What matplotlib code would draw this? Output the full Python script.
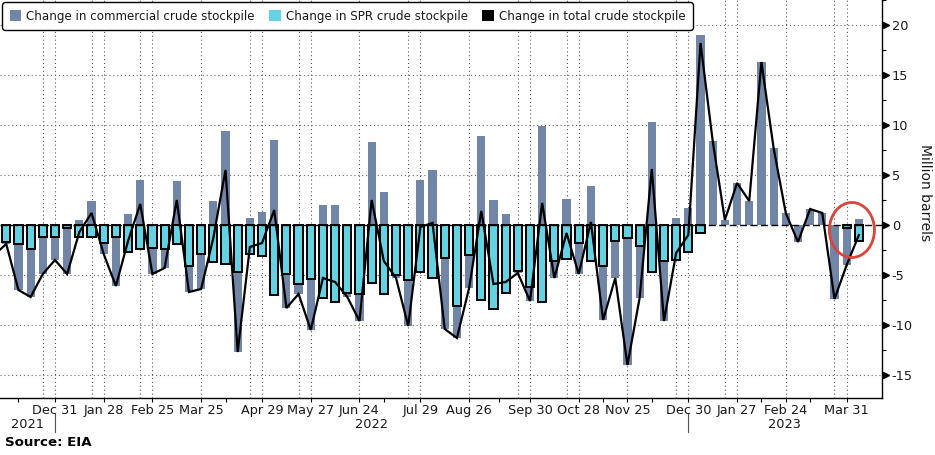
import numpy as np
import pandas as pd
import matplotlib
matplotlib.use("Agg")
import matplotlib.pyplot as plt
import matplotlib.dates as mdates
import matplotlib.transforms as mtransforms
from matplotlib.patches import Patch, Ellipse

# ---------------- data (million barrels, weekly) ----------------
weeks = pd.date_range("2021-11-26", "2023-04-07", freq="7D")

commercial = [-1.5, -0.2, -4.6, -4.8, -3.7, -2.3, -4.6, 0.5, 2.4, -1.1,
              -4.9, 1.1, 4.5, -2.6, -1.9, 4.4, -2.6, -3.5, 2.4, 9.4,
              -8.0, 0.7, 1.3, 8.5, -3.4, -1.0, -5.1, 2.0, 2.0, -0.4,
              -2.7, 8.3, 3.3, -0.3, -4.6, 4.5, 5.5, -7.1, -3.2, -3.3,
              8.9, 2.5, 1.1, -0.2, -1.4, 9.9, -1.7, 2.6, -3.1, 3.9,
              -5.4, -3.7, -12.7, -5.2, 10.3, -6.0, 0.7, 1.7, 19.0, 8.4,
              0.5, 4.2, 2.4, 16.3, 7.7, 1.2, -1.7, 1.6, 1.2, -7.4,
              -3.7, 0.6]

spr = [-1.5, -1.7, -1.9, -2.4, -1.2, -1.2, -0.3, -1.2, -1.2, -1.8,
       -1.2, -2.7, -2.4, -2.3, -2.4, -1.9, -4.1, -2.9, -3.7, -3.9,
       -4.7, -2.9, -3.1, -7.0, -4.9, -5.9, -5.4, -7.3, -7.7, -6.8,
       -6.9, -5.8, -6.9, -5.0, -5.5, -4.7, -5.3, -3.3, -8.1, -3.0,
       -7.5, -8.4, -6.8, -4.6, -6.2, -7.7, -3.6, -3.4, -1.8, -3.6,
       -4.1, -1.6, -1.3, -2.1, -4.7, -3.6, -3.5, -2.7, -0.8, 0.0,
       0.0, 0.0, 0.0, 0.0, 0.0, 0.0, 0.0, 0.0, 0.0, 0.0,
       -0.3, -1.6]

total = [-3.0, -1.9, -6.5, -7.2, -4.9, -3.5, -4.9, -0.7, 1.2, -2.9,
         -6.1, -1.6, 2.1, -4.9, -4.3, 2.5, -6.7, -6.4, -1.3, 5.5,
         -12.7, -2.2, -1.8, 1.5, -8.3, -6.9, -10.5, -5.3, -5.7, -7.2,
         -9.6, 2.5, -3.6, -5.3, -10.1, -0.2, 0.2, -10.4, -11.3, -6.3,
         1.4, -5.9, -5.7, -4.8, -7.6, 2.2, -5.3, -0.8, -4.9, 0.3,
         -9.5, -5.3, -14.0, -7.3, 5.6, -9.6, -2.8, -1.0, 18.2, 8.4,
         0.5, 4.2, 2.4, 16.3, 7.7, 1.2, -1.7, 1.6, 1.2, -7.4,
         -4.0, -1.0]

series_names = ["Change in commercial crude stockpile",
                "Change in SPR crude stockpile",
                "Change in total crude stockpile"]

tick_dates = ["2021-12-31", "2022-01-28", "2022-02-25", "2022-03-25", "2022-04-29",
              "2022-05-27", "2022-06-24", "2022-07-29", "2022-08-26", "2022-09-30",
              "2022-10-28", "2022-11-25", "2022-12-30", "2023-01-27", "2023-02-24",
              "2023-03-31"]
tick_labels = ["Dec 31", "Jan 28", "Feb 25", "Mar 25", "Apr 29", "May 27", "Jun 24",
               "Jul 29", "Aug 26", "Sep 30", "Oct 28", "Nov 25", "Dec 30", "Jan 27",
               "Feb 24", "Mar 31"]
extra_tick_dates = ["2021-12-10", "2022-04-08", "2022-07-08", "2022-09-12",
                    "2022-11-11", "2022-12-09", "2023-02-10", "2023-03-10"]
grid_dates = ["2021-12-24", "2021-12-31", "2022-01-21", "2022-01-28", "2022-02-18",
              "2022-02-25", "2022-03-25", "2022-04-22", "2022-04-29", "2022-05-20",
              "2022-05-27", "2022-06-24", "2022-07-22", "2022-07-29", "2022-08-26",
              "2022-09-23", "2022-09-30", "2022-10-21", "2022-10-28", "2022-11-25",
              "2022-12-23", "2022-12-30", "2023-01-20", "2023-01-27", "2023-02-24",
              "2023-03-24", "2023-03-31"]
year_labels = ["2021", "2022", "2023"]
year_label_dates = ["2021-12-15", "2022-07-01", "2023-02-23"]
year_break_dates = ["2021-12-31", "2022-12-30"]
y_ticks = [-15, -10, -5, 0, 5, 10, 15, 20]

# ---------------- styling ----------------
C_COMM = "#7185a7"
C_SPR = "#64d2e2"
TXT = "#1a1a1a"
plt.rcParams["font.family"] = ["DejaVu Sans"]

W, H = 935, 455
fig = plt.figure(figsize=(W / 100, H / 100), dpi=100)
ax = fig.add_axes([0, 57 / H, 882 / W, (H - 57) / H])

x = mdates.date2num(weeks.to_pydatetime())
comm = np.array(commercial)
sp = np.array(spr)
tot = np.array(total)
bw = 4.7  # days

comm_bottom = np.where(comm < 0, np.minimum(sp, 0), np.maximum(sp, 0))
ax.bar(x, comm, width=bw, bottom=comm_bottom, color=C_COMM, linewidth=0, zorder=3)
mask = sp != 0
ax.bar(x[mask], sp[mask], width=bw, color=C_SPR, edgecolor="black",
       linewidth=1.4, zorder=4)
ax.plot(x, tot, color="black", linewidth=1.6, zorder=5, solid_joinstyle="miter")

# zero line
ax.axhline(0, color="black", linewidth=1.0, linestyle=(0, (5, 2.5)), zorder=4.5)

# gridlines
for d in grid_dates:
    ax.axvline(mdates.datestr2num(d), color="#555555", linewidth=0.8,
               linestyle=(0, (1, 2.5)), zorder=1)
for v in y_ticks:
    if v != 0:
        ax.axhline(v, color="#666666", linewidth=0.8, linestyle=(0, (1, 2.5)), zorder=1)

xmin = mdates.datestr2num("2021-12-31") - 31.6
xmax = mdates.datestr2num("2021-12-31") + 475.3
ax.set_xlim(xmin, xmax)
ax.set_ylim(-17.3, 22.5)

# spines
for s in ["left", "top"]:
    ax.spines[s].set_visible(False)
ax.spines["bottom"].set_color("black")
ax.spines["right"].set_color("black")
ax.spines["bottom"].set_linewidth(1.0)
ax.spines["right"].set_linewidth(1.0)

# x ticks
all_ticks = [mdates.datestr2num(d) for d in tick_dates]
ax.set_xticks(all_ticks)
ax.set_xticklabels(tick_labels)
ax.set_xticks([mdates.datestr2num(d) for d in extra_tick_dates], minor=True)
ax.tick_params(axis="x", which="both", direction="out", length=3, width=0.8,
               colors="black", labelcolor=TXT, labelsize=9.3, pad=1)

# y ticks on the right
ax.yaxis.tick_right()
ax.set_yticks(y_ticks)
ax.set_yticklabels([str(v) for v in y_ticks])
ax.set_yticks([v + 2.5 for v in y_ticks], minor=True)
ax.tick_params(axis="y", which="major", length=0, pad=7, labelsize=9.3, labelcolor=TXT)
ax.tick_params(axis="y", which="minor", direction="out", length=3, width=0.8, colors="black")
ytrans = mtransforms.blended_transform_factory(ax.transAxes, ax.transData)
ax.plot([1.004] * len(y_ticks), y_ticks, linestyle="none", marker=">", markersize=5,
        color="black", transform=ytrans, clip_on=False, zorder=6)

fig.text(925 / W, 1 - 193 / H, "Million barrels", rotation=270, ha="center",
         va="center", fontsize=10, color=TXT)

# year labels and separators
xtrans = mtransforms.blended_transform_factory(ax.transData, fig.transFigure)
for lab, d in zip(year_labels, year_label_dates):
    ax.text(mdates.datestr2num(d), 1 - 424 / H, lab, transform=xtrans, ha="center",
            va="center", fontsize=9.3, color=TXT)
for d in year_break_dates:
    xd = mdates.datestr2num(d)
    ax.plot([xd, xd], [1 - 414 / H, 1 - 432 / H], transform=xtrans, color="#555555",
            linewidth=0.8, clip_on=False)

fig.text(5 / W, 1 - 443 / H, "Source: EIA", ha="left", va="center", fontsize=9.6,
         fontweight="bold", color="black")

# legend
handles = [Patch(facecolor=C_COMM, edgecolor="none"),
           Patch(facecolor=C_SPR, edgecolor="none"),
           Patch(facecolor="black", edgecolor="none")]
leg = ax.legend(handles, series_names, loc="upper left", bbox_to_anchor=(0.0, 1.0),
                ncol=3, frameon=True, fancybox=True, fontsize=8.6,
                handlelength=1.0, handleheight=1.0, handletextpad=0.4,
                columnspacing=1.2, borderpad=0.6, borderaxespad=0.2)
leg.get_frame().set_edgecolor("black")
leg.get_frame().set_linewidth(1.0)
leg.get_frame().set_facecolor("white")
leg.get_frame().set_alpha(1)
leg.set_zorder(10)
for t in leg.get_texts():
    t.set_color(TXT)

# highlight circle
ell = Ellipse((mdates.datestr2num("2023-04-03"), -0.5), width=25.9, height=5.5,
              fill=False, edgecolor="#d9453b", linewidth=2.0, zorder=7, clip_on=False)
ax.add_patch(ell)

fig.savefig("out.png", dpi=100, facecolor="white")
